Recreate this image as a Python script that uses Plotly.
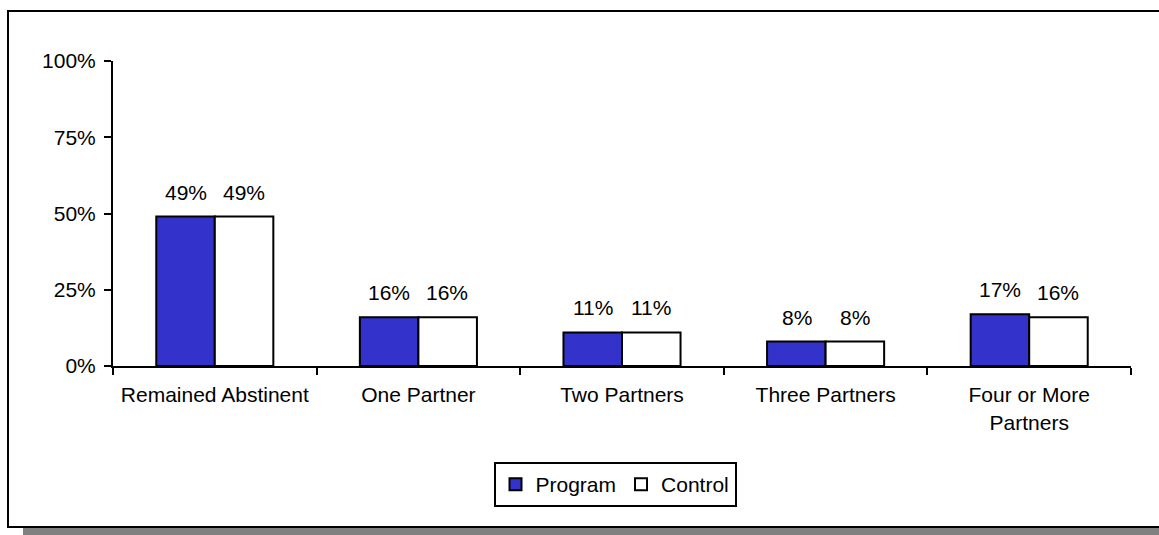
import plotly.graph_objects as go

categories = ["Remained Abstinent", "One Partner", "Two Partners", "Three Partners", "Four or More<br>Partners"]
program = [49, 16, 11, 8, 17]
control = [49, 16, 11, 8, 16]
series_names = ["Program", "Control"]
tick_vals = [0, 25, 50, 75, 100]
tick_text = ["0%", "25%", "50%", "75%", "100%"]

FONT = "Liberation Sans, Arial, sans-serif"
FS = 21
W, H = 1159, 535
L, R, T, B = 113, 28, 61, 169
pw, ph = W - L - R, H - T - B

def px(x):
    return (x - L) / pw

def py(y):
    return (H - B - y) / ph

fig = go.Figure()
fig.add_trace(go.Bar(x=categories, y=program, name=series_names[0],
                     marker=dict(color="#3333CC", line=dict(color="black", width=2))))
fig.add_trace(go.Bar(x=categories, y=control, name=series_names[1],
                     marker=dict(color="white", line=dict(color="black", width=2))))

annotations = []
for vals, shift in ((program, -29), (control, 29)):
    for c, v in zip(categories, vals):
        annotations.append(dict(x=c, y=v, text=f"{v}%", showarrow=False, xref="x", yref="y",
                                xshift=shift, yshift=11, yanchor="bottom",
                                font=dict(family=FONT, size=FS, color="black")))

shapes = [
    dict(type="rect", xref="paper", yref="paper", x0=px(23), x1=px(1170), y0=py(540), y1=py(528),
         fillcolor="#808080", line=dict(width=0), layer="below"),
    dict(type="rect", xref="paper", yref="paper", x0=px(8), x1=px(1170), y0=py(527), y1=py(11),
         fillcolor="rgba(0,0,0,0)", line=dict(color="black", width=2)),
]

fig.update_layout(
    width=W, height=H,
    margin=dict(l=L, r=R, t=T, b=B),
    paper_bgcolor="white", plot_bgcolor="white",
    barmode="group", bargap=0.425, bargroupgap=0,
    font=dict(family=FONT, size=FS, color="black"),
    showlegend=True,
    legend=dict(orientation="h", x=px(615), xanchor="center", y=py(462), yanchor="top",
                bordercolor="black", borderwidth=2, bgcolor="white",
                font=dict(family=FONT, size=FS), itemwidth=30, traceorder="normal"),
    annotations=annotations,
    shapes=shapes,
)
fig.update_xaxes(showline=True, linecolor="black", linewidth=2, ticks="outside", ticklen=7,
                 tickwidth=2, tickcolor="black", tickson="boundaries", showgrid=False,
                 ticklabelstandoff=9, tickfont=dict(family=FONT, size=FS))
fig.update_yaxes(range=[0, 100], tickvals=tick_vals, ticktext=tick_text, showline=True,
                 linecolor="black", linewidth=2, ticks="outside", ticklen=7, tickwidth=2,
                 tickcolor="black", showgrid=False, zeroline=False,
                 ticklabelstandoff=4, tickfont=dict(family=FONT, size=FS))

fig.write_html("out.html", config={"displayModeBar": False},
               post_script="document.body.style.margin='0';document.body.style.overflow='hidden';")
